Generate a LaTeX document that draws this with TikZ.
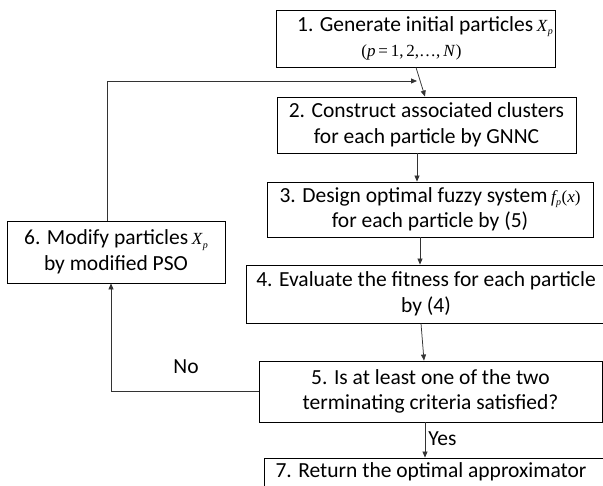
\documentclass[tikz,border=0pt]{standalone}
\usepackage{fontspec}
\setmainfont{Carlito}
\newfontfamily\tms{Liberation Serif}
\usetikzlibrary{arrows.meta}
\begin{document}
\begin{tikzpicture}[x=1pt,y=-1pt,
  frame/.style={draw=black, line width=0.9pt, inner sep=0pt},
  txt/.style={inner sep=0pt, align=center, font=\fontsize{21.5}{25.5}\selectfont},
  lbl/.style={inner sep=0pt, font=\fontsize{21.5}{25.5}\selectfont},
  arr/.style={-{Triangle[length=6pt,width=5pt]}, line width=0.75pt, draw=black!80}]
\useasboundingbox (0,0) rectangle (603,486);
\clip (0,0) rectangle (603,486);
\newcommand{\subp}{\raisebox{-3.5pt}{\fontsize{10}{12}\selectfont\itshape p}}
\newcommand{\myxp}{{\tms\fontsize{17}{19}\selectfont\itshape X\kern0.6pt\subp}}
\newcommand{\myfp}{{\tms\fontsize{17}{19}\selectfont\itshape f\kern0.3pt\subp\kern0.5pt\upshape(\itshape x\upshape)}}
% boxes
\node[frame, minimum width=279pt, minimum height=57pt] (b1) at (415.5,38.5) {};
\node[txt] (t1) at (425,38.5) {1. Generate initial particles\,\myxp\\\hspace*{-27pt}{\tms\fontsize{17}{19}\selectfont(\textit{p}\,=\,1,\,2,\ldots,\,\textit{N}\kern0.5pt)}};
\node[frame, minimum width=299pt, minimum height=56pt] (b2) at (426.5,125) {};
\node[txt] (t2) at (b2.center) {2. Construct associated clusters\\ for each particle by GNNC};
\node[frame, minimum width=326pt, minimum height=55pt] (b3) at (430,209.5) {};
\node[txt] (t3) at (b3.center) {3. Design optimal fuzzy system\,\myfp\\ for each particle by (5)};
\node[frame, minimum width=360pt, minimum height=58pt] (b4) at (426,294) {};
\node[txt] (t4) at (b4.center) {4. Evaluate the fitness for each particle\\ by (4)};
\node[frame, minimum width=343pt, minimum height=61pt] (b5) at (430.5,391.5) {};
\node[txt] (t5) at (b5.center) {5. Is at least one of the two\\ terminating criteria satisfied?};
\node[frame, minimum width=218pt, minimum height=62pt] (b6) at (116,252) {};
\node[txt] (t6) at (b6.center) {6. Modify particles\,\myxp\\ by modified PSO};
\node[frame, minimum width=350pt, minimum height=60pt] (b7) at (439,488) {};
\node[txt, anchor=base] (t7) at (431,478) {7. Return the optimal approximator};
% connectors
\coordinate (lp) at (417,81);
\draw[arr] ([xshift=0.5pt]b1.south) -- ([xshift=-1.5pt]b2.north);
\draw[arr] ([xshift=-9.5pt]b2.south) -- ([xshift=-9.5pt]b2.south |- b3.north);
\draw[arr] ([xshift=-10pt]b3.south) -- ([xshift=-10pt]b3.south |- b4.north);
\draw[arr] ([xshift=-5pt]b4.south) -- ([xshift=-6.5pt]b5.north);
\draw[arr] ([xshift=-5.5pt]b5.south) -- node[lbl, right=3pt, pos=0.45] (yes) {Yes} ([xshift=-5.5pt]b5.south |- b7.north);
\draw[arr] ([xshift=-9pt]b6.north) |- (lp);
\draw[arr] (b5.west) -| ([xshift=-5pt]b6.south);
\node[lbl] (no) at (186,367) {No};
\end{tikzpicture}
\end{document}
